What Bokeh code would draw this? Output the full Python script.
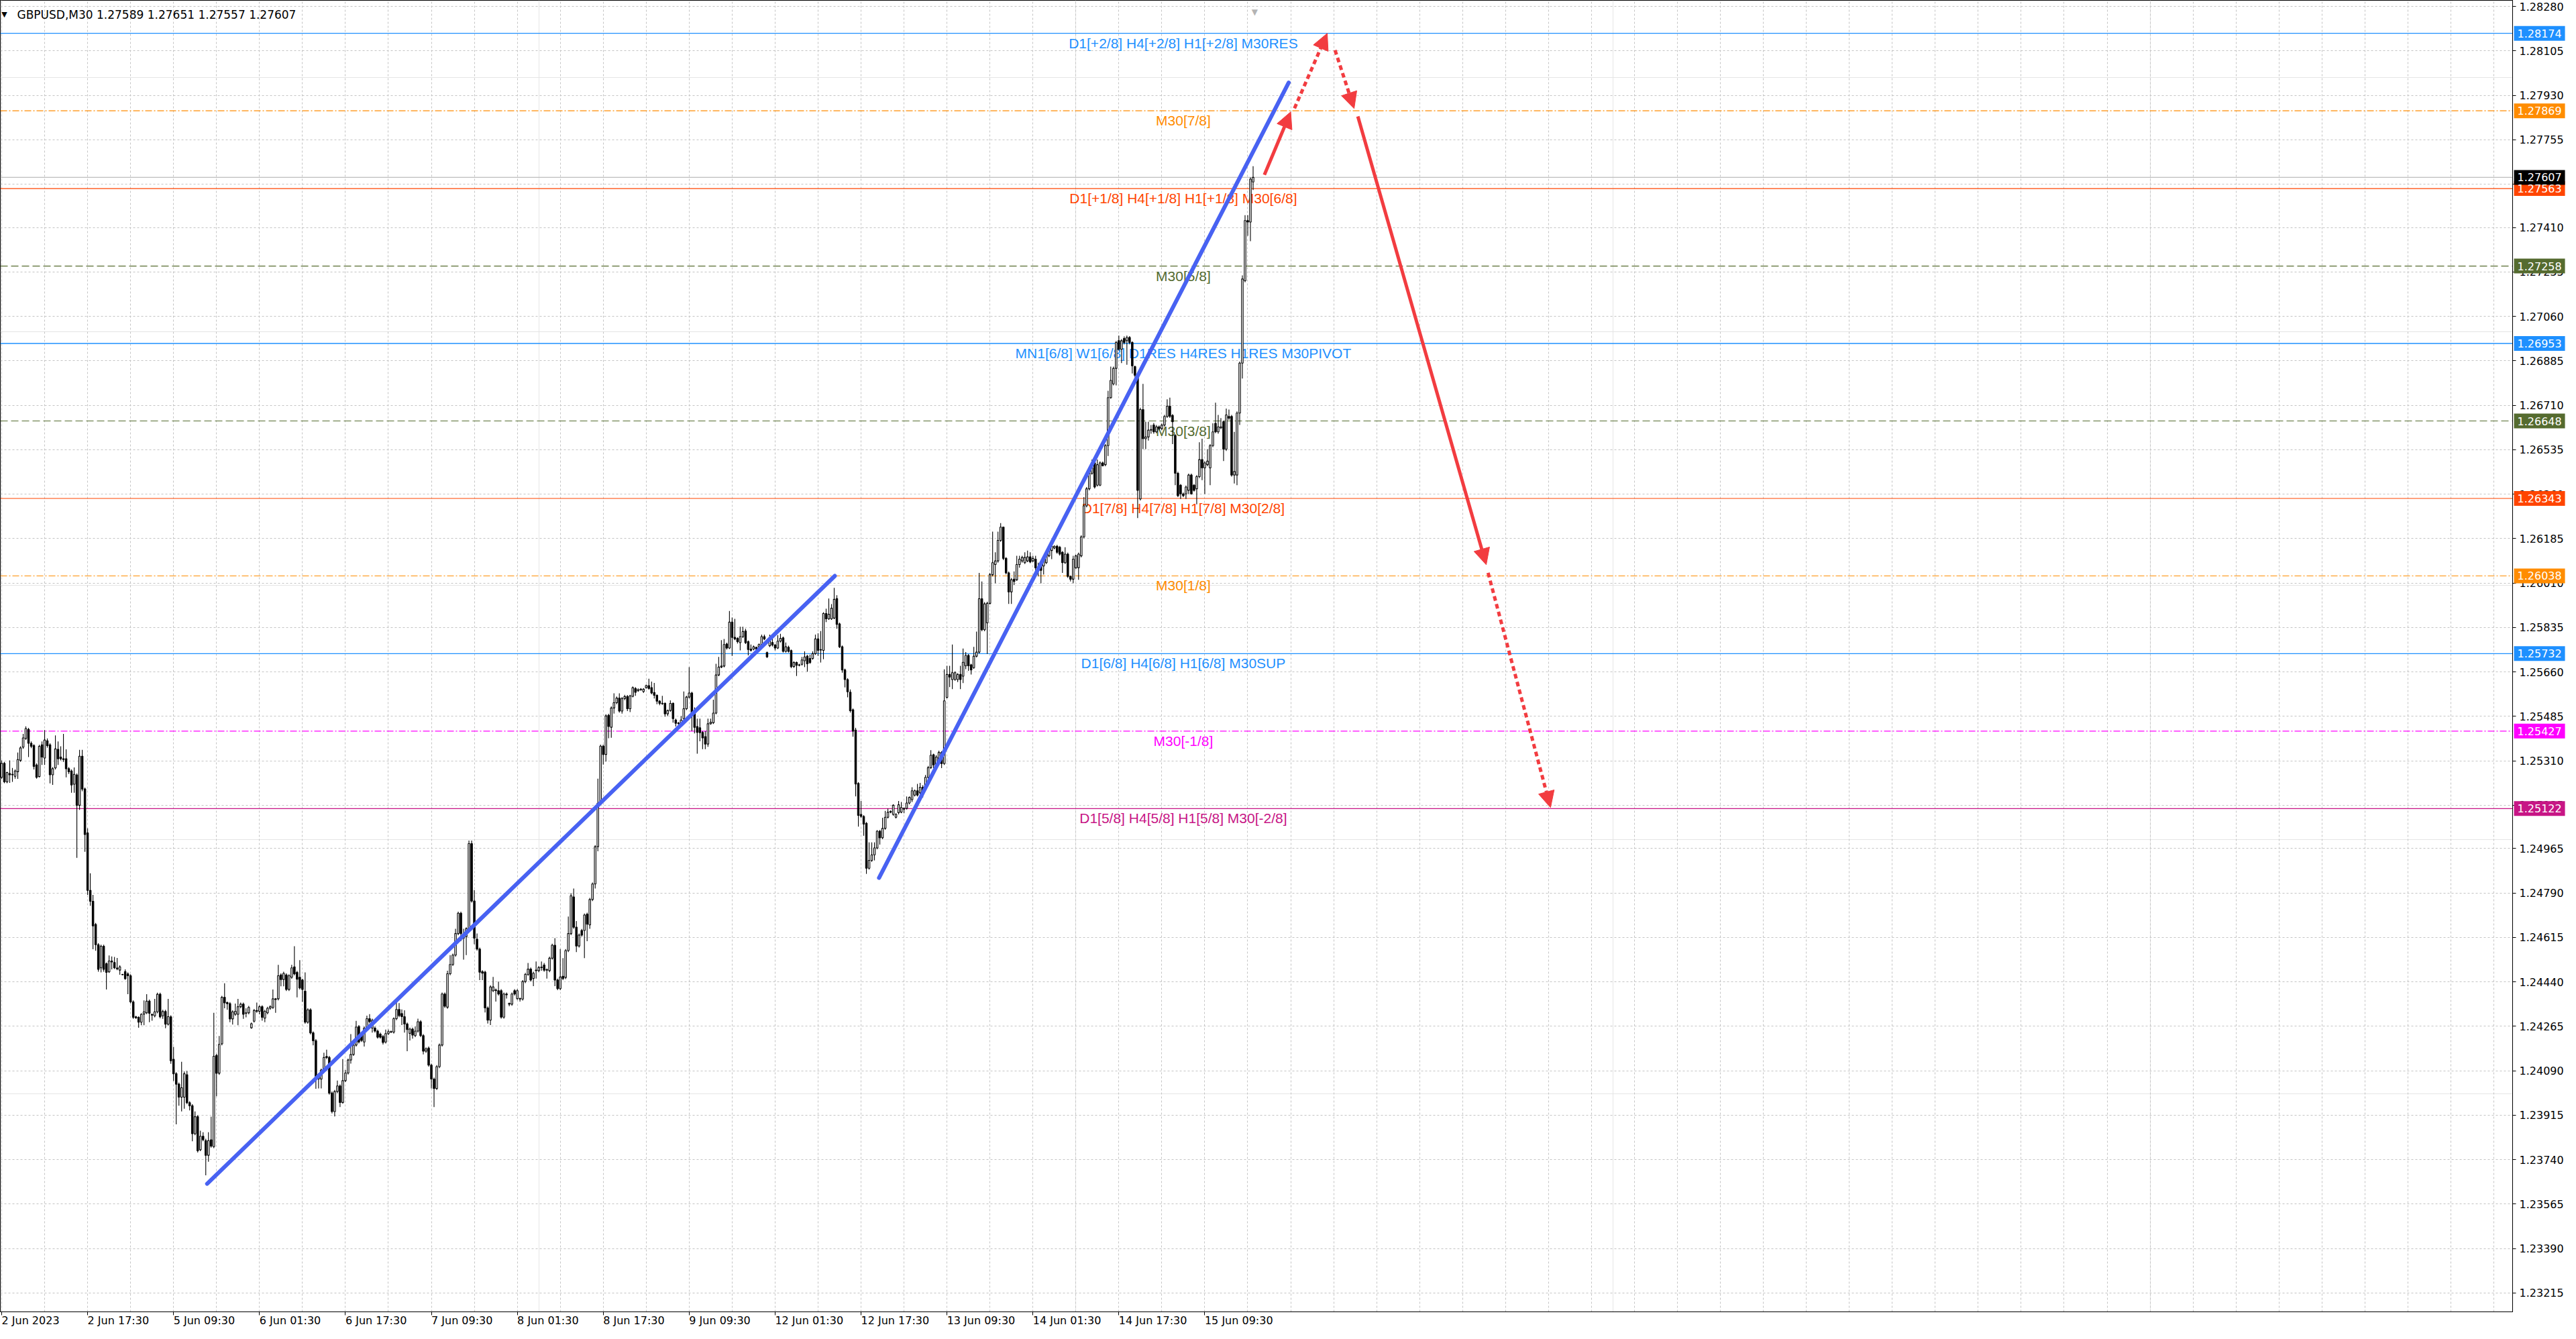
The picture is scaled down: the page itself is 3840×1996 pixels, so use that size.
from bokeh.plotting import figure
from bokeh.models import (Range1d, LinearAxis, FixedTicker, Span, Label,
                          Arrow, NormalHead, Grid, ColumnDataSource)
from bokeh.embed import file_html
from bokeh.resources import INLINE
from bokeh.core.properties import value

# ---------------- data ----------------
header_text = "GBPUSD,M30  1.27589 1.27651 1.27557 1.27607"

x_tick_bars = [0, 32, 64, 96, 128, 160, 192, 224, 256, 288, 320, 352, 384, 416, 448]
x_tick_labels = ["2 Jun 2023", "2 Jun 17:30", "5 Jun 09:30", "6 Jun 01:30", "6 Jun 17:30",
                 "7 Jun 09:30", "8 Jun 01:30", "8 Jun 17:30", "9 Jun 09:30", "12 Jun 01:30",
                 "12 Jun 17:30", "13 Jun 09:30", "14 Jun 01:30", "14 Jun 17:30", "15 Jun 09:30"]

y_tick_values = [1.28280, 1.28105, 1.27930, 1.27755, 1.27580, 1.27410, 1.27235, 1.27060, 1.26885,
                 1.26710, 1.26535, 1.26360, 1.26185, 1.26010, 1.25835, 1.25660, 1.25485, 1.25310,
                 1.25135, 1.24965, 1.24790, 1.24615, 1.24440, 1.24265, 1.24090, 1.23915, 1.23740,
                 1.23565, 1.23390, 1.23215]

# OHLC of the M30 bars, in points (1e-5)
open_pts = [
    125245,125300,125227,125260,125255,125249,125267,125312,125364,125398,
    125434,125379,125370,125294,125248,125373,125321,125389,125373,125255,
    125282,125355,125325,125318,125318,125279,125270,125218,125254,125135,
    125328,125199,125026,124800,124757,124666,124586,124495,124580,124511,
    124479,124522,124516,124494,124486,124469,124480,124471,124464,124361,
    124302,124300,124281,124313,124318,124364,124312,124306,124322,124391,
    124306,124323,124273,124302,124135,124078,124037,123986,123986,124074,
    123964,123952,123842,123909,123779,123832,123815,123757,123818,123791,
    124150,124080,124196,124379,124358,124354,124294,124312,124312,124342,
    124352,124316,124318,124259,124285,124327,124324,124342,124297,124318,
    124336,124339,124373,124373,124467,124449,124467,124410,124458,124499,
    124477,124458,124447,124403,124281,124330,124239,124208,124057,124057,
    124093,124146,124142,124002,123929,124008,124030,123965,124051,124081,
    124132,124154,124191,124264,124234,124203,124258,124295,124258,124258,
    124246,124234,124225,124203,124236,124244,124242,124295,124331,124315,
    124303,124274,124237,124254,124228,124246,124283,124228,124167,124179,
    124112,124057,124020,124106,124191,124392,124340,124472,124508,124545,
    124630,124710,124614,124618,124649,124984,124758,124608,124569,124480,
    124478,124337,124289,124405,124408,124405,124405,124301,124392,124355,
    124352,124405,124374,124374,124372,124441,124469,124490,124453,124486,
    124484,124496,124506,124488,124484,124533,124584,124447,124413,124462,
    124457,124563,124630,124774,124655,124581,124642,124642,124706,124664,
    124764,124825,124972,125143,125368,125335,125489,125442,125518,125539,
    125557,125506,125555,125563,125515,125564,125595,125586,125590,125583,
    125598,125606,125598,125579,125568,125545,125537,125536,125495,125508,
    125536,125471,125459,125458,125476,125515,125561,125577,125500,125445,
    125440,125422,125405,125376,125456,125460,125498,125648,125679,125683,
    125770,125754,125856,125796,125792,125775,125799,125821,125779,125750,
    125750,125757,125759,125768,125799,125736,125763,125776,125766,125754,
    125781,125794,125741,125757,125744,125681,125697,125686,125690,125704,
    125722,125713,125713,125732,125790,125748,125745,125890,125869,125869,
    125872,125949,125849,125759,125668,125630,125580,125511,125431,125221,
    125099,125091,125064,124887,124918,124940,124967,125033,125007,125044,
    125088,125108,125099,125088,125106,125108,125123,125123,125144,125157,
    125175,125192,125184,125206,125206,125245,125283,125334,125294,125299,
    125343,125299,125560,125650,125630,125630,125630,125650,125643,125684,
    125725,125688,125677,125722,125738,125948,125826,125853,125930,126043,
    126083,126097,126178,126230,126107,126050,125975,126025,126023,126083,
    126097,126090,126097,126113,126097,126104,126062,126083,126077,126090,
    126117,126138,126148,126155,126151,126131,126090,126124,126036,126025,
    126070,126070,126117,126192,126314,126381,126442,126483,126395,126395,
    126483,126476,126551,126740,126794,126855,126964,126930,126973,126964,
    126977,126957,126862,126828,126341,126693,126578,126585,126612,126632,
    126605,126625,126618,126632,126666,126706,126670,126591,126442,126395,
    126361,126361,126375,126435,126395,126381,126429,126496,126463,126476,
    126463,126551,126639,126605,126621,126645,126537,126666,126666,126435,
    126435,126679,126876,127200,127437,127431,127589]

high_pts = [
    125312,125306,125267,125312,125282,125276,125343,125367,125416,125446,
    125440,125386,125375,125300,125373,125386,125431,125398,125379,125285,
    125410,125386,125367,125416,125355,125285,125276,125284,125260,125353,
    125353,125205,125044,124867,124782,124672,124592,124586,124586,124516,
    124544,124540,124538,124534,124505,124471,124489,124477,124470,124367,
    124306,124304,124316,124367,124391,124370,124315,124373,124397,124397,
    124330,124330,124373,124308,124184,124084,124043,124125,124087,124089,
    123970,123958,123930,123915,123854,123848,123822,123848,123909,124318,
    124156,124227,124385,124434,124362,124360,124328,124354,124373,124358,
    124358,124336,124345,124280,124333,124358,124348,124348,124330,124342,
    124348,124410,124376,124507,124473,124480,124473,124470,124507,124580,
    124483,124525,124452,124477,124336,124336,124245,124214,124080,124098,
    124161,124173,124148,124008,124014,124051,124036,124136,124093,124138,
    124234,124197,124286,124270,124240,124264,124307,124313,124295,124264,
    124252,124240,124231,124252,124252,124248,124300,124374,124356,124331,
    124328,124280,124260,124260,124264,124295,124289,124234,124182,124185,
    124118,124063,124112,124197,124398,124398,124484,124545,124551,124649,
    124716,124716,124649,124655,124996,124996,124801,124630,124575,124486,
    124484,124343,124426,124459,124414,124441,124411,124398,124398,124358,
    124398,124411,124411,124378,124447,124475,124514,124496,124480,124520,
    124502,124520,124514,124492,124539,124590,124612,124453,124569,124533,
    124569,124697,124789,124807,124679,124630,124648,124709,124712,124770,
    124831,124978,125240,125374,125374,125493,125495,125524,125576,125563,
    125576,125561,125570,125569,125570,125603,125600,125595,125596,125596,
    125610,125633,125622,125617,125572,125549,125566,125540,125512,125548,
    125540,125476,125463,125486,125583,125566,125679,125582,125520,125476,
    125476,125427,125427,125476,125476,125551,125692,125719,125785,125790,
    125775,125900,125874,125869,125796,125838,125838,125830,125784,125768,
    125764,125759,125772,125807,125807,125740,125807,125801,125770,125805,
    125810,125799,125776,125763,125748,125702,125701,125692,125719,125741,
    125727,125728,125741,125807,125812,125821,125895,125909,125949,125927,
    125991,125962,125854,125764,125673,125635,125591,125516,125440,125226,
    125152,125096,125069,124989,124989,124989,125037,125038,125086,125113,
    125122,125115,125139,125104,125152,125148,125126,125170,125170,125206,
    125197,125219,125223,125214,125254,125290,125352,125338,125332,125350,
    125348,125670,125684,125684,125768,125662,125655,125684,125752,125738,
    125730,125692,125759,125819,126050,126016,125935,125936,126050,126212,
    126131,126212,126246,126232,126112,126055,126030,126056,126117,126117,
    126117,126131,126138,126131,126117,126117,126090,126088,126110,126131,
    126144,126160,126158,126160,126156,126136,126151,126130,126040,126117,
    126122,126130,126198,126348,126388,126469,126496,126496,126496,126489,
    126488,126557,126767,126862,126862,126963,126984,126970,126981,126984,
    126982,126962,126866,126835,126700,126794,126645,126645,126632,126640,
    126632,126630,126638,126672,126733,126740,126675,126596,126448,126400,
    126366,126394,126441,126441,126400,126435,126564,126578,126489,126537,
    126557,126639,126720,126672,126659,126650,126697,126693,126672,126605,
    126686,126882,127221,127458,127458,127607,127651]

low_pts = [
    125239,125222,125222,125223,125227,125240,125239,125306,125357,125392,
    125325,125360,125276,125240,125245,125294,125294,125362,125221,125215,
    125276,125294,125312,125306,125245,125258,125184,125184,124928,125117,
    125190,124952,124782,124739,124568,124562,124480,124477,124480,124410,
    124475,124489,124490,124486,124468,124466,124448,124391,124355,124294,
    124294,124259,124269,124269,124313,124281,124287,124300,124316,124296,
    124294,124257,124268,124117,124050,123879,123952,123930,123940,123958,
    123934,123812,123836,123768,123773,123812,123678,123732,123787,123785,
    123989,124074,124190,124336,124330,124281,124272,124306,124269,124336,
    124294,124300,124312,124255,124280,124318,124312,124287,124281,124312,
    124330,124333,124318,124367,124422,124422,124404,124404,124452,124465,
    124379,124410,124361,124275,124275,124233,124190,124019,124020,124020,
    124088,124136,123996,123922,123910,124002,123947,123960,124045,124075,
    124118,124148,124185,124197,124203,124185,124252,124277,124240,124240,
    124216,124216,124193,124197,124230,124238,124236,124289,124301,124270,
    124240,124167,124209,124216,124222,124240,124222,124154,124160,124106,
    124020,123947,124014,124100,124185,124337,124334,124466,124502,124539,
    124624,124600,124527,124545,124643,124752,124588,124563,124447,124447,
    124319,124276,124270,124399,124362,124386,124295,124295,124374,124344,
    124346,124386,124368,124362,124366,124435,124463,124441,124423,124453,
    124478,124484,124480,124453,124478,124527,124423,124407,124407,124447,
    124451,124557,124624,124649,124557,124575,124618,124533,124600,124649,
    124758,124807,124954,125137,125295,125307,125399,125401,125496,125533,
    125500,125496,125549,125506,125502,125560,125566,125582,125586,125577,
    125594,125590,125572,125555,125533,125529,125530,125484,125486,125503,
    125460,125445,125451,125454,125470,125510,125555,125427,125418,125338,
    125387,125356,125356,125365,125452,125455,125493,125643,125675,125678,
    125748,125750,125723,125785,125772,125745,125794,125770,125725,125740,
    125745,125732,125754,125763,125785,125715,125758,125760,125745,125750,
    125776,125736,125736,125736,125675,125676,125644,125682,125685,125679,
    125661,125692,125708,125727,125723,125697,125710,125856,125865,125865,
    125868,125830,125754,125657,125599,125560,125500,125405,125170,125051,
    125085,125015,124865,124882,124912,124918,124962,124980,125002,125039,
    125083,125104,125094,125083,125099,125104,125104,125118,125139,125148,
    125170,125170,125179,125166,125200,125240,125278,125281,125288,125294,
    125281,125294,125555,125600,125592,125625,125620,125592,125616,125671,
    125664,125650,125672,125717,125733,125820,125820,125731,125925,126036,
    126009,126090,126172,126100,126044,125928,125928,126002,126018,126070,
    126090,126085,126092,126088,126092,126036,126036,126009,126043,126085,
    126112,126104,126143,126125,126118,126050,126085,126030,126016,126009,
    126065,126023,126111,126186,126308,126375,126436,126382,126390,126391,
    126469,126470,126510,126735,126788,126788,126925,126876,126950,126869,
    126950,126835,126820,126266,126335,126537,126537,126571,126598,126598,
    126600,126612,126612,126626,126660,126660,126557,126395,126348,126341,
    126348,126341,126361,126358,126370,126320,126423,126415,126361,126470,
    126395,126545,126600,126598,126616,126490,126530,126652,126429,126402,
    126395,126632,126815,127194,127377,127356,127557]

close_pts = [
    125300,125227,125264,125255,125257,125270,125315,125361,125400,125437,
    125379,125367,125288,125245,125367,125325,125392,125370,125255,125279,
    125357,125318,125318,125315,125279,125267,125215,125257,125135,125328,
    125199,125020,124800,124757,124660,124586,124489,124580,124489,124477,
    124522,124518,124495,124491,124499,124468,124452,124464,124361,124300,
    124298,124281,124312,124322,124364,124316,124309,124322,124391,124302,
    124323,124273,124303,124129,124078,124037,123986,124023,124078,123964,
    123952,123842,123909,123775,123832,123818,123757,123815,123793,124147,
    124080,124194,124379,124357,124354,124294,124322,124324,124342,124352,
    124312,124318,124339,124275,124327,124324,124342,124300,124324,124336,
    124342,124373,124370,124464,124449,124473,124410,124464,124495,124471,
    124450,124416,124410,124281,124330,124239,124208,124068,124075,124093,
    124142,124142,124002,123929,124008,124030,123965,124051,124081,124132,
    124154,124191,124262,124203,124209,124258,124295,124283,124289,124246,
    124222,124222,124201,124236,124244,124242,124295,124331,124307,124303,
    124274,124252,124254,124230,124246,124283,124228,124167,124176,124112,
    124057,124020,124106,124191,124392,124344,124472,124508,124545,124630,
    124710,124630,124612,124649,124984,124758,124612,124569,124478,124474,
    124337,124289,124420,124420,124405,124392,124301,124392,124389,124352,
    124392,124392,124405,124372,124441,124469,124490,124447,124474,124484,
    124496,124498,124486,124486,124533,124584,124447,124413,124459,124453,
    124563,124630,124779,124655,124581,124624,124624,124703,124667,124764,
    124825,124972,125143,125368,125335,125487,125445,125518,125539,125557,
    125506,125555,125563,125515,125566,125598,125580,125591,125592,125592,
    125606,125595,125577,125568,125545,125536,125535,125495,125508,125536,
    125476,125458,125457,125471,125515,125561,125577,125500,125442,125422,
    125421,125400,125376,125456,125462,125498,125648,125679,125683,125768,
    125754,125856,125796,125790,125779,125799,125819,125775,125748,125745,
    125759,125750,125768,125799,125790,125719,125781,125766,125754,125781,
    125792,125741,125759,125741,125681,125697,125686,125688,125707,125719,
    125692,125697,125732,125790,125745,125746,125890,125869,125887,125911,
    125946,125847,125759,125668,125630,125582,125507,125427,125219,125095,
    125091,125061,124887,124918,124940,124967,125033,125007,125044,125088,
    125108,125111,125135,125099,125137,125126,125120,125144,125166,125192,
    125192,125175,125206,125188,125245,125283,125332,125294,125325,125343,
    125299,125546,125650,125640,125657,125657,125650,125630,125698,125725,
    125684,125668,125722,125738,125948,125826,125928,125930,126043,126090,
    126097,126178,126230,126107,126050,125975,126023,126016,126083,126104,
    126111,126111,126113,126093,126107,126070,126060,126060,126104,126124,
    126138,126155,126155,126131,126124,126090,126124,126036,126025,126104,
    126117,126124,126192,126314,126381,126442,126463,126388,126476,126483,
    126472,126551,126740,126808,126855,126957,126930,126964,126957,126977,
    126957,126865,126828,126375,126693,126578,126585,126612,126614,126605,
    126625,126618,126632,126666,126706,126666,126645,126442,126354,126361,
    126354,126388,126435,126361,126375,126429,126496,126463,126483,126490,
    126551,126605,126605,126625,126625,126537,126672,126659,126435,126449,
    126679,126876,127207,127437,127431,127600,127607]

# Murrey-math levels drawn on the chart
level_prices = [1.28174, 1.27869, 1.27563, 1.27258, 1.26953, 1.26648, 1.26343,
                1.26038, 1.25732, 1.25427, 1.25122]
level_labels = ["D1[+2/8] H4[+2/8] H1[+2/8] M30RES", "M30[7/8]",
                "D1[+1/8] H4[+1/8] H1[+1/8] M30[6/8]", "M30[5/8]",
                "MN1[6/8] W1[6/8] D1RES H4RES H1RES M30PIVOT", "M30[3/8]",
                "D1[7/8] H4[7/8] H1[7/8] M30[2/8]", "M30[1/8]",
                "D1[6/8] H4[6/8] H1[6/8] M30SUP", "M30[-1/8]",
                "D1[5/8] H4[5/8] H1[5/8] M30[-2/8]"]
level_colors = ["#1E90FF", "#FF8C00", "#FF4500", "#556B2F", "#1E90FF", "#556B2F",
                "#FF4500", "#FF8C00", "#1E90FF", "#FF00FF", "#C71585"]
level_dashes = ["solid", "10 3 2 3", "solid", "11 5", "solid", "11 5", "solid",
                "10 3 2 3", "solid", "10 3 2 3", "solid"]
level_widths = [1.2, 1.2, 1.2, 1.2, 1.6, 1.2, 1.2, 1.2, 1.2, 1.2, 1.2]
level_label_bar = 440

current_price = 1.27607

# hand-drawn trend lines (bar index, price)
trend_x0 = [76.5, 326.7]
trend_y0 = [1.23645, 1.24849]
trend_x1 = [310.25, 479.25]
trend_y1 = [1.26038, 1.27980]

# forecast arrows (bar index, price)
arrow_x0 = [470.2, 481.4, 496.5, 505.0, 553.5]
arrow_y0 = [1.27617, 1.27879, 1.28108, 1.27847, 1.26050]
arrow_x1 = [480.0, 493.6, 503.6, 552.8, 576.75]
arrow_y1 = [1.27865, 1.28174, 1.27878, 1.26082, 1.25126]
arrow_dashes = ["solid", "7 5", "7 5", "solid", "7 5"]

# ---------------- figure ----------------
# canvas 3824 x 1980; frame 3737 x 1945 at its top-left corner
FRAME_W, FRAME_H = 3737, 1945
X0, X1 = -0.5, 935.0
Y1 = 1.28304
Y0 = Y1 - FRAME_H / 37670.0          # same price/pixel scale as the reference
PX_PER_BAR = FRAME_W / (X1 - X0)

p = figure(width=3824, height=1980, output_backend="svg", toolbar_location=None,
           x_range=Range1d(X0, X1), y_range=Range1d(Y0, Y1),
           x_axis_location=None, y_axis_location=None,
           min_border_left=0, min_border_top=0, min_border_right=79, min_border_bottom=25)
p.background_fill_color = "white"
p.border_fill_color = "white"
p.outline_line_color = "black"
p.outline_line_width = 1

GRID = "#C4C4C4"
vgrid = Grid(dimension=0, ticker=FixedTicker(ticks=list(range(0, 935, 16))),
             grid_line_color=GRID, grid_line_dash="3 3", grid_line_width=1)
hgrid = Grid(dimension=1, ticker=FixedTicker(ticks=y_tick_values),
             grid_line_color=GRID, grid_line_dash="3 3", grid_line_width=1)
p.add_layout(vgrid)
p.add_layout(hgrid)

AXFONT = "DejaVu Sans"


def tick_only_axis(ticks):
    ax = LinearAxis(ticker=FixedTicker(ticks=ticks),
                    major_label_overrides={t: "" for t in ticks})
    ax.major_tick_out = 5
    ax.major_tick_in = 0
    ax.minor_tick_out = 0
    ax.minor_tick_in = 0
    ax.major_label_standoff = 0
    ax.major_label_text_font_size = "1px"
    ax.axis_line_color = "black"
    ax.major_tick_line_color = "black"
    return ax


# scales: ticks from the axes, labels written next to them (exact placement)
p.add_layout(tick_only_axis(y_tick_values), "right")
p.add_layout(tick_only_axis(x_tick_bars), "below")

p.text(x=[X1] * len(y_tick_values), y=y_tick_values, text=[f"{v:.5f}" for v in y_tick_values],
       text_align="left", text_baseline="middle", x_offset=10, y_offset=0,
       text_color="black", text_font=value(AXFONT), text_font_size="16px", level="overlay")
p.text(x=x_tick_bars, y=[Y0] * len(x_tick_bars), text=x_tick_labels,
       text_align="left", text_baseline="top", x_offset=0, y_offset=3,
       text_color="black", text_font=value(AXFONT), text_font_size="16px", level="overlay")

# level lines
for price, color, dash, w in zip(level_prices, level_colors, level_dashes, level_widths):
    p.add_layout(Span(location=price, dimension="width", line_color=color,
                      line_dash=dash, line_width=w, level="underlay"))
p.add_layout(Span(location=current_price, dimension="width", line_color="#BDBDBD",
                  line_width=1.2, level="underlay"))

# level texts
lvl_src = ColumnDataSource(dict(x=[level_label_bar] * len(level_prices), y=level_prices,
                                text=level_labels, color=level_colors))
p.text(x="x", y="y", text="text", text_color="color", source=lvl_src,
       text_align="center", text_baseline="top", y_offset=3,
       text_font=value("Liberation Sans"), text_font_size="21px")

# candles
n = len(close_pts)
o = [v / 1e5 for v in open_pts]
h = [v / 1e5 for v in high_pts]
l = [v / 1e5 for v in low_pts]
c = [v / 1e5 for v in close_pts]
src = ColumnDataSource(dict(
    x=list(range(n)), high=h, low=l,
    top=[max(a, b) for a, b in zip(o, c)],
    bottom=[min(a, b) for a, b in zip(o, c)],
    fill=["white" if cc >= oo else "black" for oo, cc in zip(o, c)]))
p.segment(x0="x", y0="low", x1="x", y1="high", source=src, line_color="black", line_width=1.1)
p.vbar(x="x", width=0.6, top="top", bottom="bottom", fill_color="fill",
       line_color="black", line_width=1.1, source=src)

# trend lines
BLUE = "#4862F2"
p.segment(x0=trend_x0, y0=trend_y0, x1=trend_x1, y1=trend_y1,
          line_color=BLUE, line_width=6, line_cap="round")

# red forecast arrows
RED = "#F23C40"
for x0, y0, x1, y1, dash in zip(arrow_x0, arrow_y0, arrow_x1, arrow_y1, arrow_dashes):
    p.add_layout(Arrow(x_start=x0, y_start=y0, x_end=x1, y_end=y1,
                       line_color=RED, line_width=5, line_dash=dash,
                       end=NormalHead(size=24, fill_color=RED, line_color=RED, line_width=1)))

# price tags on the right scale (overlay level, drawn over the scale)
tag_prices = level_prices[:3] + [current_price] + level_prices[3:]
tag_colors = level_colors[:3] + ["black"] + level_colors[3:]
tag_x = X1 + 40 / PX_PER_BAR
p.rect(x=[tag_x] * len(tag_prices), y=tag_prices, width=76, height=22,
       width_units="screen", height_units="screen",
       fill_color=tag_colors, line_color=None, level="overlay")
p.text(x=[tag_x] * len(tag_prices), y=tag_prices, text=[f"{v:.5f}" for v in tag_prices],
       text_align="center", text_baseline="middle",
       text_color="white", text_font=value(AXFONT), text_font_size="16px", level="overlay")

# header
p.add_layout(Label(x=6, x_units="screen", y=FRAME_H - 11, y_units="screen", text="\u25BC",
                   text_align="center", text_baseline="middle", text_color="black",
                   text_font=AXFONT, text_font_size="11px"))
p.add_layout(Label(x=25, x_units="screen", y=FRAME_H - 11, y_units="screen", text=header_text,
                   text_align="left", text_baseline="middle", text_color="black",
                   text_font=AXFONT, text_font_size="17px"))
# chart shift marker
p.add_layout(Label(x=466.6, x_units="data", y=FRAME_H - 7, y_units="screen", text="\u25BC",
                   text_align="center", text_baseline="middle", text_color="#B4B4B4",
                   text_font=AXFONT, text_font_size="12px"))

open("out.html", "w").write(file_html(p, INLINE))
